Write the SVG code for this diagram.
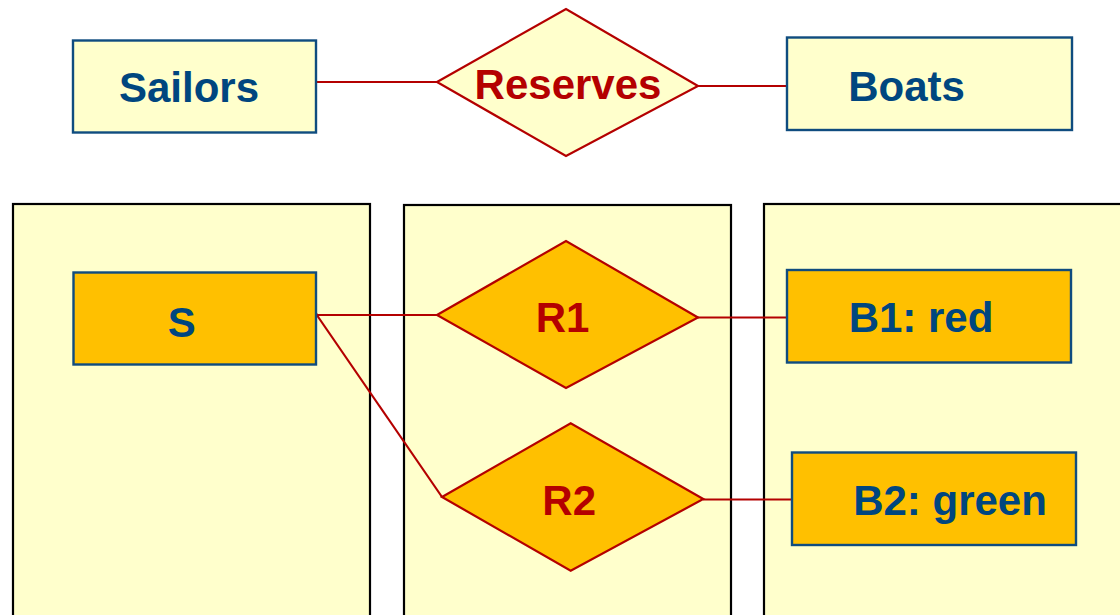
<svg xmlns="http://www.w3.org/2000/svg" width="1120" height="615" viewBox="0 0 1120 615">
  <style>
    .panel { fill: #FFFFCC; stroke: #000000; stroke-width: 2.2; }
    .ent { fill: #FFFFCC; stroke: #0F4C7F; stroke-width: 2.4; }
    .ent2 { fill: #FFC000; stroke: #0F4C7F; stroke-width: 2.4; }
    .rel { fill: #FFFFCC; stroke: #B40000; stroke-width: 2.2; }
    .rel2 { fill: #FFC000; stroke: #B40000; stroke-width: 2.2; }
    .conn { fill: none; stroke: #B40000; stroke-width: 2.2; }
    .t { font-family: "Liberation Sans", Arial, sans-serif; font-weight: bold; font-size: 42px; text-anchor: middle; }
    .tb { fill: #00467F; }
    .tr { fill: #B40000; }
  </style>
  <rect width="1120" height="615" fill="#FFFFFF"/>

  <g id="panels">
    <rect id="panel-left" class="panel" x="13" y="204" width="357" height="420"/>
    <rect id="panel-mid" class="panel" x="404" y="205" width="327" height="420"/>
    <rect id="panel-right" class="panel" x="764" y="204" width="364" height="420"/>
  </g>

  <g id="connectors">
    <line class="conn" x1="316" y1="82" x2="437" y2="82"/>
    <line class="conn" x1="698" y1="86" x2="787" y2="86"/>
    <polyline class="conn" points="312,308 317,315 437,315"/>
    <line class="conn" x1="312" y1="308" x2="442" y2="497"/>
    <line class="conn" x1="698" y1="317.5" x2="787" y2="317.5"/>
    <line class="conn" x1="703" y1="499.5" x2="792" y2="499.5"/>
  </g>

  <g id="sailors">
    <rect class="ent" x="73" y="40.5" width="243" height="92"/>
    <text class="t tb" x="189" y="102">Sailors</text>
  </g>
  <g id="reserves">
    <polygon class="rel" points="437,82 566,9 698,86 566,156"/>
    <text class="t tr" x="568" y="99">Reserves</text>
  </g>
  <g id="boats">
    <rect class="ent" x="787" y="37.5" width="285" height="92.5"/>
    <text class="t tb" x="906.5" y="101">Boats</text>
  </g>

  <g id="s">
    <rect class="ent2" x="73.5" y="272.5" width="242.5" height="92"/>
    <text class="t tb" x="181.7" y="337">S</text>
  </g>
  <g id="r1">
    <polygon class="rel2" points="437,315 566,241 698,317.5 566,388"/>
    <text class="t tr" x="562.5" y="332">R1</text>
  </g>
  <g id="b1">
    <rect class="ent2" x="787" y="270" width="284" height="92.5"/>
    <text class="t tb" x="921" y="332">B1: red</text>
  </g>
  <g id="r2">
    <polygon class="rel2" points="442,497 570.7,423.3 703.3,499 570.7,570.7"/>
    <text class="t tr" x="569.2" y="514.5">R2</text>
  </g>
  <g id="b2">
    <rect class="ent2" x="792" y="452.5" width="284" height="92.5"/>
    <text class="t tb" x="950" y="514.5">B2: green</text>
  </g>
</svg>
